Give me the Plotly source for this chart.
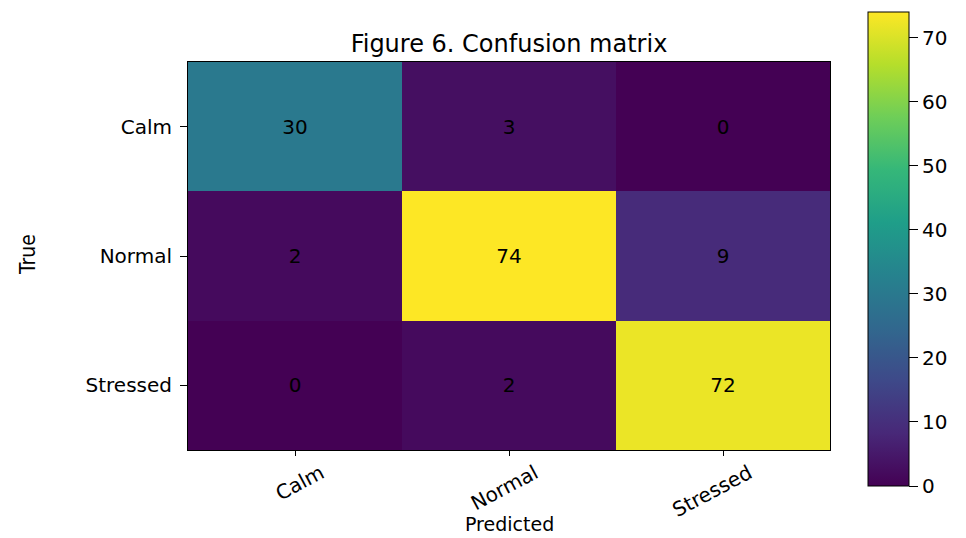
import plotly.graph_objects as go

# Confusion matrix data
classes = ["Calm", "Normal", "Stressed"]
counts = [
    [30, 3, 0],
    [2, 74, 9],
    [0, 2, 72],
]
cbar_ticks = [0, 10, 20, 30, 40, 50, 60, 70]

W, H = 966, 538
L, R, T, B = 188, 136, 62, 88
plot_w = W - L - R
plot_h = H - T - B

font = "DejaVu Sans"
black = "black"

fig = go.Figure(
    go.Heatmap(
        z=counts,
        x=classes,
        y=classes,
        colorscale="Viridis",
        zmin=0,
        zmax=74,
        text=counts,
        texttemplate="%{text}",
        textfont=dict(family=font, size=20, color=black),
        colorbar=dict(
            x=(868 - L) / plot_w,
            xanchor="left",
            xpad=0,
            ypad=0,
            y=(T + plot_h - 249) / plot_h,
            yanchor="middle",
            len=474 / plot_h,
            lenmode="fraction",
            thickness=41,
            thicknessmode="pixels",
            outlinecolor=black,
            outlinewidth=1,
            ticks="outside",
            ticklen=9,
            tickcolor=black,
            tickvals=cbar_ticks,
            tickfont=dict(family=font, size=20, color=black),
        ),
        hoverinfo="skip",
    )
)

axis_common = dict(
    showline=True,
    mirror=True,
    linecolor=black,
    linewidth=1,
    ticks="outside",
    tickcolor=black,
    showgrid=False,
    zeroline=False,
    automargin=False,
    tickfont=dict(family=font, size=20, color=black),
)

fig.update_xaxes(**axis_common, ticklen=5, tickangle=-28, ticklabelshift=26, ticklabelstandoff=-2)
fig.update_yaxes(**axis_common, ticklen=7, autorange="reversed", ticklabelstandoff=4)

# Axis titles
fig.add_annotation(
    text="Predicted", xref="paper", yref="paper",
    x=(509 - L) / plot_w, y=(T + plot_h - 524) / plot_h,
    xanchor="center", yanchor="middle", showarrow=False,
    font=dict(family=font, size=19, color=black),
)
fig.add_annotation(
    text="True", xref="paper", yref="paper",
    x=(28 - L) / plot_w, y=(T + plot_h - 255) / plot_h,
    xanchor="center", yanchor="middle", showarrow=False, textangle=-90,
    font=dict(family="DejaVu Sans Condensed, Liberation Sans Narrow, DejaVu Sans", size=21, color=black),
)

fig.update_layout(
    width=W,
    height=H,
    margin=dict(l=L, r=R, t=T, b=B, autoexpand=False),
    paper_bgcolor="white",
    plot_bgcolor="white",
    title=dict(
        text="Figure 6. Confusion matrix",
        x=(L + plot_w / 2) / W,
        xanchor="center",
        y=1 - 44 / H,
        yanchor="middle",
        font=dict(family=font, size=24, color=black),
    ),
)

fig.write_html("out.html")
